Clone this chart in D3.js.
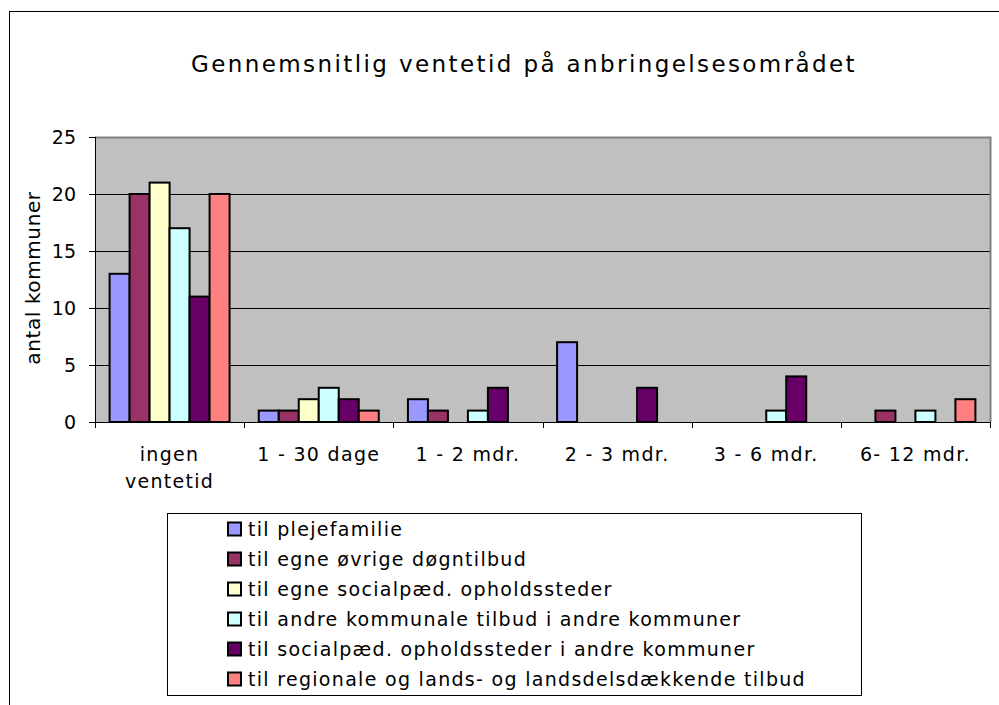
<!DOCTYPE html>
<html>
<head>
<meta charset="utf-8">
<script src="https://cdn.jsdelivr.net/npm/d3@7"></script>
<style>
  body { margin: 0; background: #fff; }
  text { font-family: "DejaVu Sans", Verdana, sans-serif; fill: #000; }
</style>
</head>
<body>
<div id="chart"></div>
<script>
const categories = ['ingen ventetid', '1 - 30 dage', '1 - 2 mdr.', '2 - 3 mdr.', '3 - 6 mdr.', '6- 12 mdr.'];
const seriesNames = [
  'til plejefamilie',
  'til egne øvrige døgntilbud',
  'til egne socialpæd. opholdssteder',
  'til andre kommunale tilbud i andre kommuner',
  'til socialpæd. opholdssteder i andre kommuner',
  'til regionale og lands- og landsdelsdækkende tilbud'
];
const plejefamilie = [13, 1, 2, 7, 0, 0];
const egneOvrige = [20, 1, 1, 0, 0, 1];
const egneSocialpaed = [21, 2, 0, 0, 0, 0];
const andreKommunale = [17, 3, 1, 0, 1, 1];
const socialpaedAndre = [11, 2, 3, 3, 4, 0];
const regionale = [20, 1, 0, 0, 0, 2];
const yTicks = [0, 5, 10, 15, 20, 25];
const colors = ['#9999FF', '#993366', '#FFFFCC', '#CCFFFF', '#660066', '#FF8080'];

function main() {
  const svgWidth = 999;
  const svgHeight = 705;
  const plot = { left: 95, right: 990, top: 137, bottom: 422 };

  const svg = d3.select('#chart').append('svg')
    .attr('width', svgWidth)
    .attr('height', svgHeight);

  // outer chart frame (runs past the right and bottom edges)
  svg.append('rect')
    .attr('x', 9.5).attr('y', 11.5)
    .attr('width', 1000).attr('height', 720)
    .attr('fill', '#fff')
    .attr('stroke', '#000')
    .attr('stroke-width', 1);

  svg.append('text')
    .attr('x', 524).attr('y', 72)
    .attr('text-anchor', 'middle')
    .attr('font-size', '23px')
    .style('letter-spacing', '2.4px')
    .text('Gennemsnitlig ventetid på anbringelsesområdet');

  const allSeries = [plejefamilie, egneOvrige, egneSocialpaed, andreKommunale, socialpaedAndre, regionale];

  const xScale = d3.scaleBand()
    .domain(categories)
    .range([plot.left, plot.right])
    .paddingInner(0)
    .paddingOuter(0);

  const xSub = d3.scaleBand()
    .domain(d3.range(seriesNames.length))
    .range([0, xScale.bandwidth()])
    .paddingInner(0)
    .paddingOuter(0.73);

  const yScale = d3.scaleLinear()
    .domain([0, 25])
    .range([plot.bottom, plot.top]);

  // plot background
  svg.append('rect')
    .attr('x', plot.left).attr('y', plot.top)
    .attr('width', plot.right - plot.left)
    .attr('height', plot.bottom - plot.top)
    .attr('fill', '#C0C0C0');

  // gridlines
  svg.append('g')
    .selectAll('line')
    .data(yTicks.filter(d => d > 0 && d < 25))
    .enter()
    .append('line')
    .attr('x1', plot.left).attr('x2', plot.right)
    .attr('y1', d => Math.round(yScale(d)) + 0.5)
    .attr('y2', d => Math.round(yScale(d)) + 0.5)
    .attr('stroke', '#000')
    .attr('stroke-width', 1);

  // gray top/right border of plot area
  svg.append('path')
    .attr('d', `M${plot.left},${plot.top + 0.5}H${plot.right + 0.5}V${plot.bottom}`)
    .attr('fill', 'none')
    .attr('stroke', '#808080')
    .attr('stroke-width', 2);

  // bars
  const barData = [];
  allSeries.forEach(function(values, s) {
    values.forEach(function(v, c) {
      if (v > 0) barData.push({ series: s, category: categories[c], value: v });
    });
  });

  svg.append('g')
    .selectAll('rect')
    .data(barData)
    .enter()
    .append('rect')
    .attr('x', d => xScale(d.category) + xSub(d.series))
    .attr('y', d => yScale(d.value))
    .attr('width', xSub.bandwidth())
    .attr('height', d => plot.bottom - yScale(d.value))
    .attr('fill', d => colors[d.series])
    .attr('stroke', '#000')
    .attr('stroke-width', 2);

  // y axis
  const leftAxis = d3.axisLeft(yScale)
    .tickValues(yTicks)
    .tickSize(6)
    .tickPadding(13);

  const yAxis = svg.append('g')
    .attr('transform', `translate(${plot.left}, 0)`)
    .call(leftAxis);
  yAxis.select('.domain').attr('stroke', '#000').attr('d', `M0.5,${plot.top}V${plot.bottom}`);
  yAxis.selectAll('text')
    .attr('font-size', '19px')
    .attr('font-family', '"DejaVu Sans", Verdana, sans-serif')
    .attr('dy', '0.36em');

  // x axis
  const bottomAxis = d3.axisBottom(xScale).tickSize(0).tickFormat('');
  const xAxis = svg.append('g')
    .attr('transform', `translate(0, ${plot.bottom})`)
    .call(bottomAxis);
  xAxis.select('.domain').attr('stroke', '#000').attr('d', `M${plot.left},0.5H${plot.right}`);

  const boundaries = categories.map(c => xScale(c)).concat([plot.right]);
  xAxis.selectAll('.boundary')
    .data(boundaries)
    .enter()
    .append('line')
    .attr('class', 'boundary')
    .attr('x1', d => Math.round(d) + 0.5).attr('x2', d => Math.round(d) + 0.5)
    .attr('y1', 0).attr('y2', 6)
    .attr('stroke', '#000');

  const catLabels = svg.append('g')
    .selectAll('text')
    .data(categories)
    .enter()
    .append('text')
    .attr('x', d => xScale(d) + xScale.bandwidth() / 2)
    .attr('y', 461)
    .attr('text-anchor', 'middle')
    .attr('font-size', '19px')
    .style('letter-spacing', '1.3px');

  catLabels.each(function(d) {
    const lines = d === 'ingen ventetid' ? ['ingen', 'ventetid'] : [d];
    const t = d3.select(this);
    lines.forEach(function(line, i) {
      t.append('tspan')
        .attr('x', xScale(d) + xScale.bandwidth() / 2)
        .attr('dy', i === 0 ? 0 : 27)
        .text(line);
    });
  });

  svg.append('text')
    .attr('transform', `translate(40, 278) rotate(-90)`)
    .attr('text-anchor', 'middle')
    .attr('font-size', '20px')
    .style('letter-spacing', '0.6px')
    .text('antal kommuner');

  // legend
  const legend = svg.append('g');
  legend.append('rect')
    .attr('x', 167.5).attr('y', 513.5)
    .attr('width', 694).attr('height', 182)
    .attr('fill', '#fff')
    .attr('stroke', '#000')
    .attr('stroke-width', 1);

  const legendItems = legend.selectAll('.item')
    .data(seriesNames)
    .enter()
    .append('g')
    .attr('class', 'item')
    .attr('transform', (d, i) => `translate(0, ${529 + i * 30})`);

  legendItems.append('rect')
    .attr('x', 228).attr('y', -6.5)
    .attr('width', 13).attr('height', 13)
    .attr('fill', (d, i) => colors[i])
    .attr('stroke', '#000')
    .attr('stroke-width', 2);

  legendItems.append('text')
    .attr('x', 248)
    .attr('y', 0)
    .attr('dy', '0.36em')
    .attr('font-size', '19px')
    .style('letter-spacing', '1.3px')
    .text(d => d);
}

main();
</script>
</body>
</html>
